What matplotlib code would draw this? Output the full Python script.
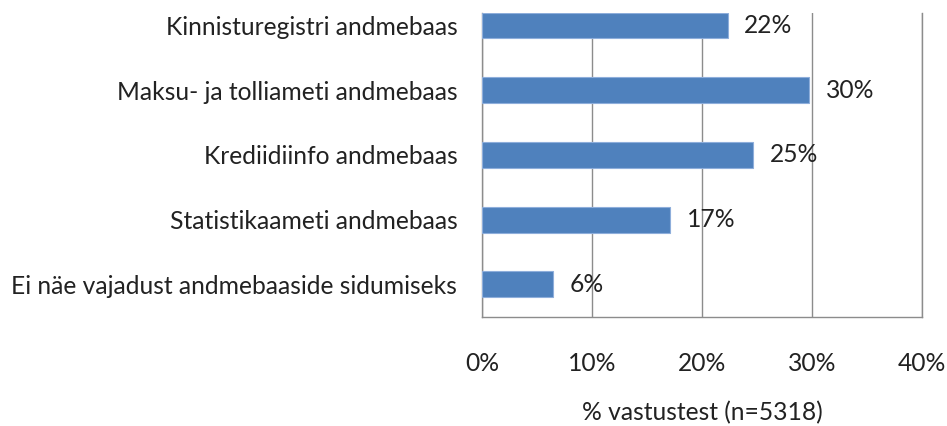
import matplotlib
matplotlib.use('Agg')
import matplotlib.pyplot as plt
import numpy as np

categories = ['Kinnisturegistri andmebaas',
              'Maksu- ja tolliameti andmebaas',
              'Krediidiinfo andmebaas',
              'Statistikaameti andmebaas',
              'Ei näe vajadust andmebaaside sidumiseks']
values = [22.3, 29.7, 24.6, 17.1, 6.4]
value_labels = ['22%', '30%', '25%', '17%', '6%']
x_ticks = [0, 10, 20, 30, 40]
x_ticklabels = ['0%', '10%', '20%', '30%', '40%']
x_title = '% vastustest (n=5318)'

plt.rcParams['font.family'] = ['Lato', 'DejaVu Sans']
txt_color = '#222222'
grid_color = '#8c8c8c'
fs = 17.7

fig = plt.figure(figsize=(9.47, 4.26), dpi=100)
ax = fig.add_axes([0.5093, 0.2566, 0.9739 - 0.5093, 0.9695 - 0.2566])

y = np.arange(len(categories))
ax.barh(y, values, height=0.4, color='#4F81BD', edgecolor='#8EAEDB', linewidth=0.8, zorder=3)

for yi, v, lab in zip(y, values, value_labels):
    ax.text(v + 1.5, yi, lab, va='center', ha='left', fontsize=fs, color=txt_color, zorder=4)

ax.set_xlim(0, 40)
ax.set_ylim(4.5, -0.194)
ax.set_yticks(y)
ax.set_yticklabels(categories, fontsize=fs, color=txt_color)
ax.set_xticks(x_ticks)
ax.set_xticklabels(x_ticklabels, fontsize=fs, color=txt_color)
ax.tick_params(axis='both', length=0)
ax.tick_params(axis='y', pad=18)
ax.tick_params(axis='x', pad=25.5)
ax.set_xlabel(x_title, fontsize=fs, color=txt_color, labelpad=19)

ax.xaxis.grid(True, color=grid_color, linewidth=1.0, zorder=0)
ax.set_axisbelow(True)
for s in ['top']:
    ax.spines[s].set_visible(False)
for s in ['left', 'bottom', 'right']:
    ax.spines[s].set_color(grid_color)
    ax.spines[s].set_linewidth(1.0)

fig.savefig('out.png', dpi=100)
